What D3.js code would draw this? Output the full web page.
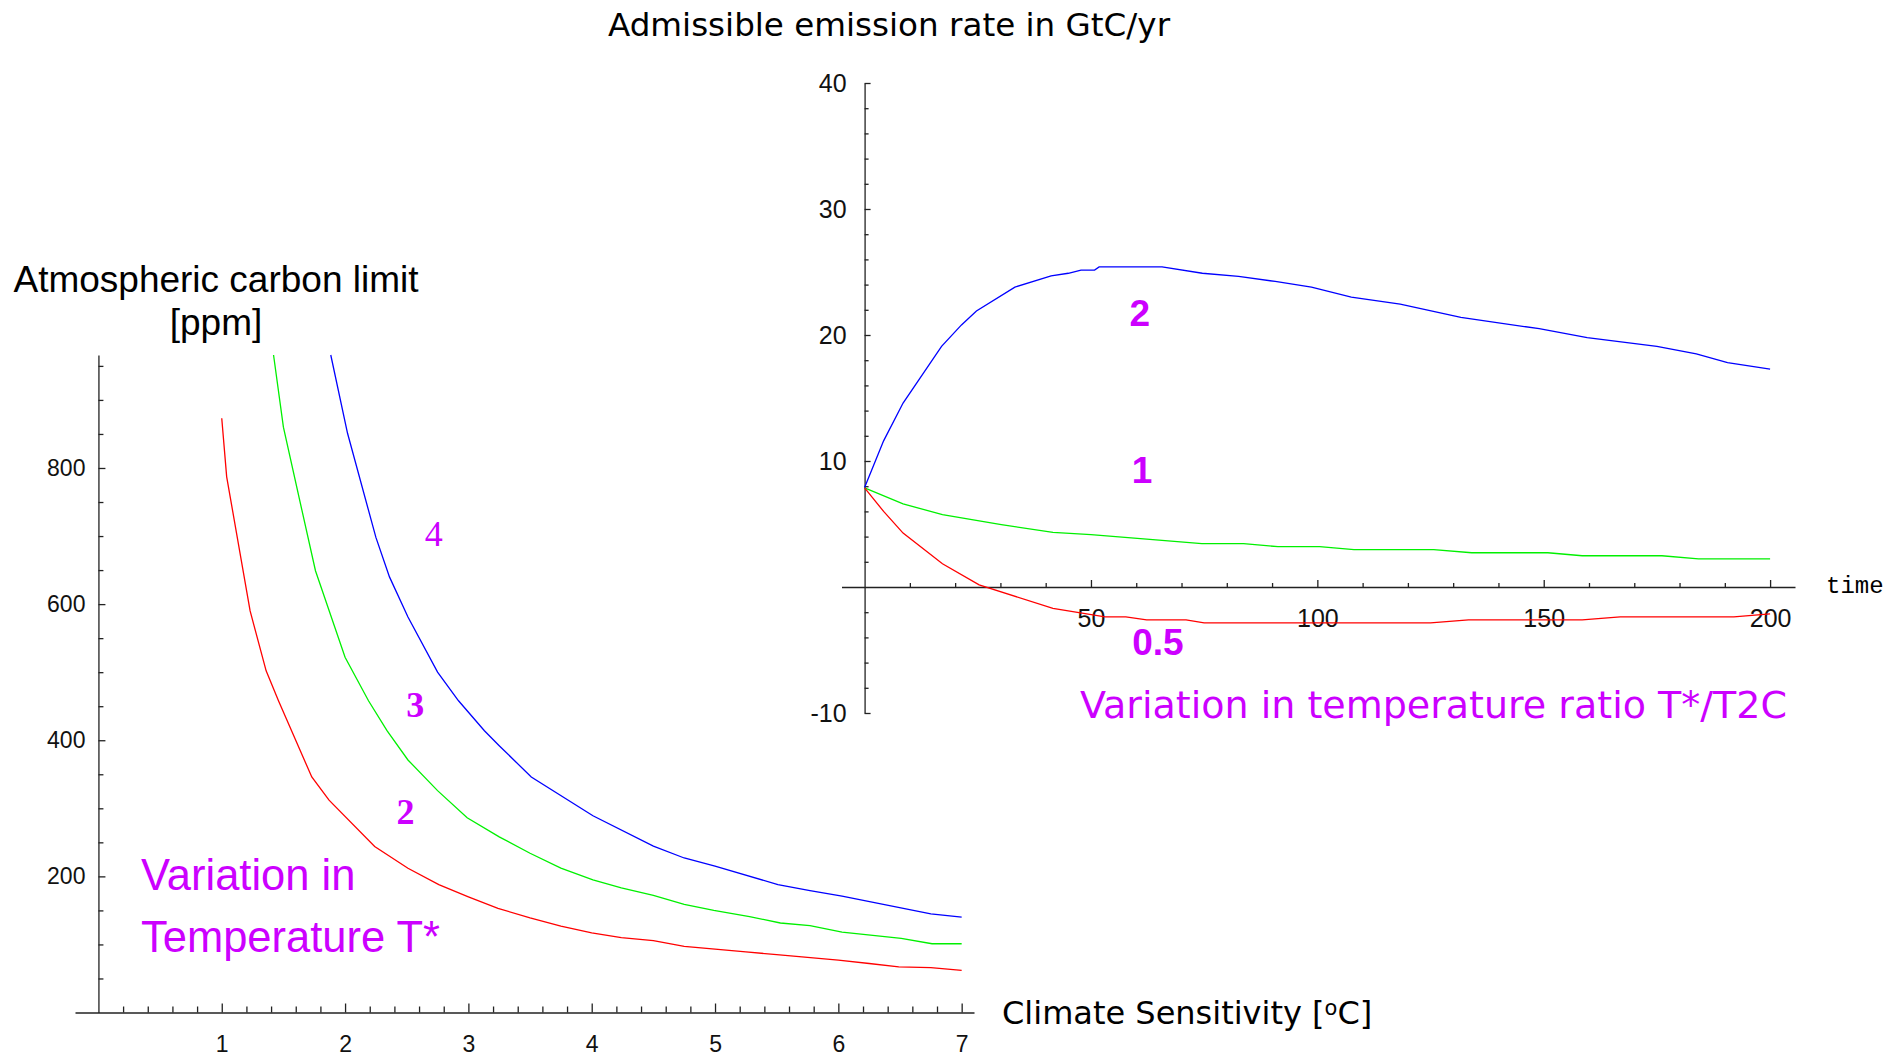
<!DOCTYPE html>
<html lang="en">
  <head>
    <meta charset="UTF-8" />
    <script src="https://d3js.org/d3.v7.min.js"></script>
    <style>
      body { margin: 0; background: #fff; }
      .axis path, .axis line { stroke: #222; stroke-width: 1.3; }
      .axis text { fill: #111; font-family: "Liberation Sans", Arial, sans-serif; }
      .curve { fill: none; stroke-width: 1.3; }
      .magenta { fill: #cc00ff; }
    </style>
  </head>
  <body>
    <svg id="chart" width="1885" height="1057"></svg>
    <script>
      // ---- left panel: carbon limit vs climate sensitivity ----
      var sensRedX = [1.0, 1.04, 1.23, 1.36, 1.46, 1.73, 1.87, 2.24, 2.51, 2.76, 3.0, 3.24, 3.5, 3.75, 4.0, 4.24, 4.5, 4.75, 5.0, 5.25, 5.5, 5.75, 6.0, 6.25, 6.49, 6.75, 7.0];
      var sensRedY = [873, 787, 590, 502, 458, 346, 312, 244, 212, 188, 170, 153, 139, 127, 117, 110, 105.6, 97, 93, 89, 85, 81, 77, 72, 67, 66, 62];
      var sensGreenX = [1.42, 1.5, 1.65, 1.76, 2.0, 2.19, 2.34, 2.51, 2.75, 2.99, 3.25, 3.5, 3.75, 4.01, 4.24, 4.5, 4.75, 4.99, 5.28, 5.53, 5.77, 6.03, 6.51, 6.76, 7.0];
      var sensGreenY = [966, 860, 738, 649, 522, 458, 414, 371, 326, 286, 258, 234, 212, 195, 183, 172, 159, 150, 141, 131.5, 127.7, 118, 109, 101, 101];
      var sensBlueX = [1.884, 2.02, 2.25, 2.36, 2.51, 2.75, 2.92, 3.13, 3.25, 3.51, 4.01, 4.5, 4.75, 5.0, 5.51, 5.77, 6.03, 6.75, 7.0];
      var sensBlueY = [966, 851, 698, 640, 581, 500, 458, 414, 392, 346, 289, 244.5, 227, 215, 188, 179, 171, 145, 140];
      var sensLabels = ["4", "3", "2"];
      var sensLabelX = [2.72, 2.57, 2.49];
      var sensLabelY = [703, 452, 295];
      var sensTicksX = [1, 2, 3, 4, 5, 6, 7];
      var sensTicksY = [200, 400, 600, 800];

      // ---- right panel: admissible emission rate vs time ----
      var timeBlueX = [0, 4.2, 8.5, 17, 21.4, 24.7, 33.2, 41.2, 45, 47.8, 50.8, 51.8, 65.7, 74.6, 82.6, 90.7, 98.7, 107.5, 118.3, 131.7, 149, 159.6, 175, 183.7, 190.6, 200];
      var timeBlueY = [7.9, 11.6, 14.6, 19.1, 20.8, 21.9, 23.8, 24.7, 24.9, 25.15, 25.15, 25.4, 25.4, 24.9, 24.65, 24.25, 23.8, 23.0, 22.45, 21.4, 20.5, 19.8, 19.1, 18.5, 17.8, 17.3];
      var timeGreenX = [0, 8.5, 17.2, 30.2, 41.6, 50, 62.3, 74.5, 83.7, 91.3, 100.5, 108.1, 125.7, 134.1, 150.9, 158.5, 176.1, 184.2, 200];
      var timeGreenY = [7.86, 6.6, 5.74, 4.95, 4.34, 4.15, 3.8, 3.44, 3.44, 3.2, 3.2, 2.96, 2.96, 2.72, 2.72, 2.48, 2.48, 2.24, 2.24];
      var timeRedX = [0, 4.2, 8.5, 17.2, 25.3, 41.6, 53.1, 57.7, 62.3, 71, 75, 125, 133.4, 158.5, 166.9, 192, 200];
      var timeRedY = [7.86, 6.0, 4.28, 1.85, 0.17, -1.69, -2.37, -2.37, -2.61, -2.61, -2.85, -2.85, -2.61, -2.61, -2.37, -2.37, -2.13];
      var timeLabels = ["2", "1", "0.5"];
      var timeLabelX = [60.8, 61.3, 64.8];
      var timeLabelY = [21.8, 9.3, -4.3];
      var timeTicksX = [50, 100, 150, 200];
      var timeTicksY = [-10, 10, 20, 30, 40];

      var svg = d3.select("#chart");

      function zip(xs, ys) {
        return xs.map(function (x, i) { return [x, ys[i]]; });
      }

      // left scales
      var xL = d3.scaleLinear().domain([-0.19, 7.1]).range([75, 974]);
      var yL = d3.scaleLinear().domain([0, 966]).range([1012.5, 355]);

      // right scales
      var xR = d3.scaleLinear().domain([-5.1, 205.5]).range([841.5, 1795]);
      var yR = d3.scaleLinear().domain([-10, 40]).range([713, 83]);

      // ----- left axes -----
      var gLx = svg.append("g").attr("class", "axis")
        .attr("transform", "translate(0," + yL(0) + ")");
      gLx.call(d3.axisBottom(xL).tickValues(d3.range(0.2, 7.01, 0.2).filter(function (v) {
          return Math.abs(v - Math.round(v)) > 0.01;
        })).tickSize(-6).tickSizeOuter(0).tickFormat(""));
      gLx.append("g").call(d3.axisBottom(xL).tickValues(sensTicksX).tickSize(-9).tickPadding(23))
        .call(function (g) { g.select(".domain").remove(); })
        .selectAll("text").style("font-size", "23px");

      var gLy = svg.append("g").attr("class", "axis")
        .attr("transform", "translate(" + xL(0) + ",0)");
      gLy.call(d3.axisLeft(yL).tickValues(d3.range(50, 951, 50).filter(function (v) {
          return v % 200 !== 0;
        })).tickSize(-5).tickSizeOuter(0).tickFormat(""));
      gLy.append("g").call(d3.axisLeft(yL).tickValues(sensTicksY).tickSize(-7).tickPadding(13))
        .call(function (g) { g.select(".domain").remove(); })
        .selectAll("text").style("font-size", "23px");

      // ----- right axes -----
      var gRx = svg.append("g").attr("class", "axis")
        .attr("transform", "translate(0," + yR(0) + ")");
      gRx.call(d3.axisBottom(xR).tickValues(d3.range(10, 201, 10).filter(function (v) {
          return v % 50 !== 0;
        })).tickSize(-4).tickSizeOuter(0).tickFormat(""));
      gRx.append("g").call(d3.axisBottom(xR).tickValues(timeTicksX).tickSize(-7).tickPadding(22))
        .call(function (g) { g.select(".domain").remove(); })
        .selectAll("text").style("font-size", "25px");

      var gRy = svg.append("g").attr("class", "axis")
        .attr("transform", "translate(" + xR(0) + ",0)");
      gRy.call(d3.axisLeft(yR).tickValues(d3.range(-8, 40, 2).filter(function (v) {
          return v % 10 !== 0;
        })).tickSize(-4).tickSizeOuter(0).tickFormat(""));
      gRy.append("g").call(d3.axisLeft(yR).tickValues(timeTicksY).tickSize(-6).tickPadding(18)
          .tickFormat(function (d) { return d < 0 ? "-" + Math.abs(d) : d; }))
        .call(function (g) { g.select(".domain").remove(); })
        .selectAll("text").style("font-size", "25px");

      // ----- curves -----
      var lineL = d3.line().x(function (d) { return xL(d[0]); }).y(function (d) { return yL(d[1]); });
      var lineR = d3.line().x(function (d) { return xR(d[0]); }).y(function (d) { return yR(d[1]); });

      var leftSeries = [
        { pts: zip(sensRedX, sensRedY), color: "#ff0000" },
        { pts: zip(sensGreenX, sensGreenY), color: "#00f000" },
        { pts: zip(sensBlueX, sensBlueY), color: "#0000ff" }
      ];
      var rightSeries = [
        { pts: zip(timeGreenX, timeGreenY), color: "#00f000" },
        { pts: zip(timeRedX, timeRedY), color: "#ff0000" },
        { pts: zip(timeBlueX, timeBlueY), color: "#0000ff" }
      ];

      svg.selectAll("path.curveL").data(leftSeries).enter()
        .append("path").attr("class", "curve curveL")
        .attr("stroke", function (d) { return d.color; })
        .attr("d", function (d) { return lineL(d.pts); });

      svg.selectAll("path.curveR").data(rightSeries).enter()
        .append("path").attr("class", "curve curveR")
        .attr("stroke", function (d) { return d.color; })
        .attr("d", function (d) { return lineR(d.pts); });

      // ----- curve labels -----
      svg.selectAll("text.labL").data(sensLabels).enter()
        .append("text").attr("class", "labL magenta")
        .attr("x", function (d, i) { return xL(sensLabelX[i]); })
        .attr("y", function (d, i) { return yL(sensLabelY[i]); })
        .attr("dy", "0.34em")
        .attr("text-anchor", "middle")
        .style("font-family", "'Liberation Serif', 'Times New Roman', serif")
        .style("font-size", "36px")
        .style("font-weight", function (d, i) { return i === 0 ? "normal" : "bold"; })
        .text(function (d) { return d; });

      svg.selectAll("text.labR").data(timeLabels).enter()
        .append("text").attr("class", "labR magenta")
        .attr("x", function (d, i) { return xR(timeLabelX[i]); })
        .attr("y", function (d, i) { return yR(timeLabelY[i]); })
        .attr("dy", "0.36em")
        .attr("text-anchor", "middle")
        .style("font-family", "'Liberation Sans', Arial, sans-serif")
        .style("font-size", "37px")
        .style("font-weight", "bold")
        .text(function (d) { return d; });

      // ----- titles -----
      svg.append("text")
        .attr("x", 889).attr("y", 36)
        .attr("text-anchor", "middle")
        .style("font-family", "'DejaVu Sans', sans-serif")
        .style("font-size", "32.6px")
        .text("Admissible emission rate in GtC/yr");

      var ylab = svg.append("text")
        .attr("text-anchor", "middle")
        .style("font-family", "'Liberation Sans', Arial, sans-serif")
        .style("font-size", "37px");
      ylab.append("tspan").attr("x", 216).attr("y", 292).text("Atmospheric carbon limit");
      ylab.append("tspan").attr("x", 216).attr("y", 335).text("[ppm]");

      var xlab = svg.append("text")
        .attr("x", 1002).attr("y", 1024)
        .style("font-family", "'DejaVu Sans', sans-serif")
        .style("font-size", "32px");
      xlab.append("tspan").text("Climate Sensitivity [");
      xlab.append("tspan").attr("dy", "-0.42em").style("font-size", "21px").text("o");
      xlab.append("tspan").attr("dy", "0.28em").text("C]");

      svg.append("text")
        .attr("x", 1826).attr("y", 593)
        .style("font-family", "'Liberation Mono', 'Courier New', monospace")
        .style("font-size", "24px")
        .text("time");

      var mLeft = svg.append("text").attr("class", "magenta")
        .style("font-family", "'Liberation Sans', Arial, sans-serif")
        .style("font-size", "43.5px");
      mLeft.append("tspan").attr("x", 141).attr("y", 890).text("Variation in");
      mLeft.append("tspan").attr("x", 141).attr("y", 952).text("Temperature T*");

      svg.append("text").attr("class", "magenta")
        .attr("x", 1080).attr("y", 718)
        .style("font-family", "'DejaVu Sans', sans-serif")
        .style("font-size", "38px")
        .text("Variation in temperature ratio T*/T2C");
    </script>
  </body>
</html>
